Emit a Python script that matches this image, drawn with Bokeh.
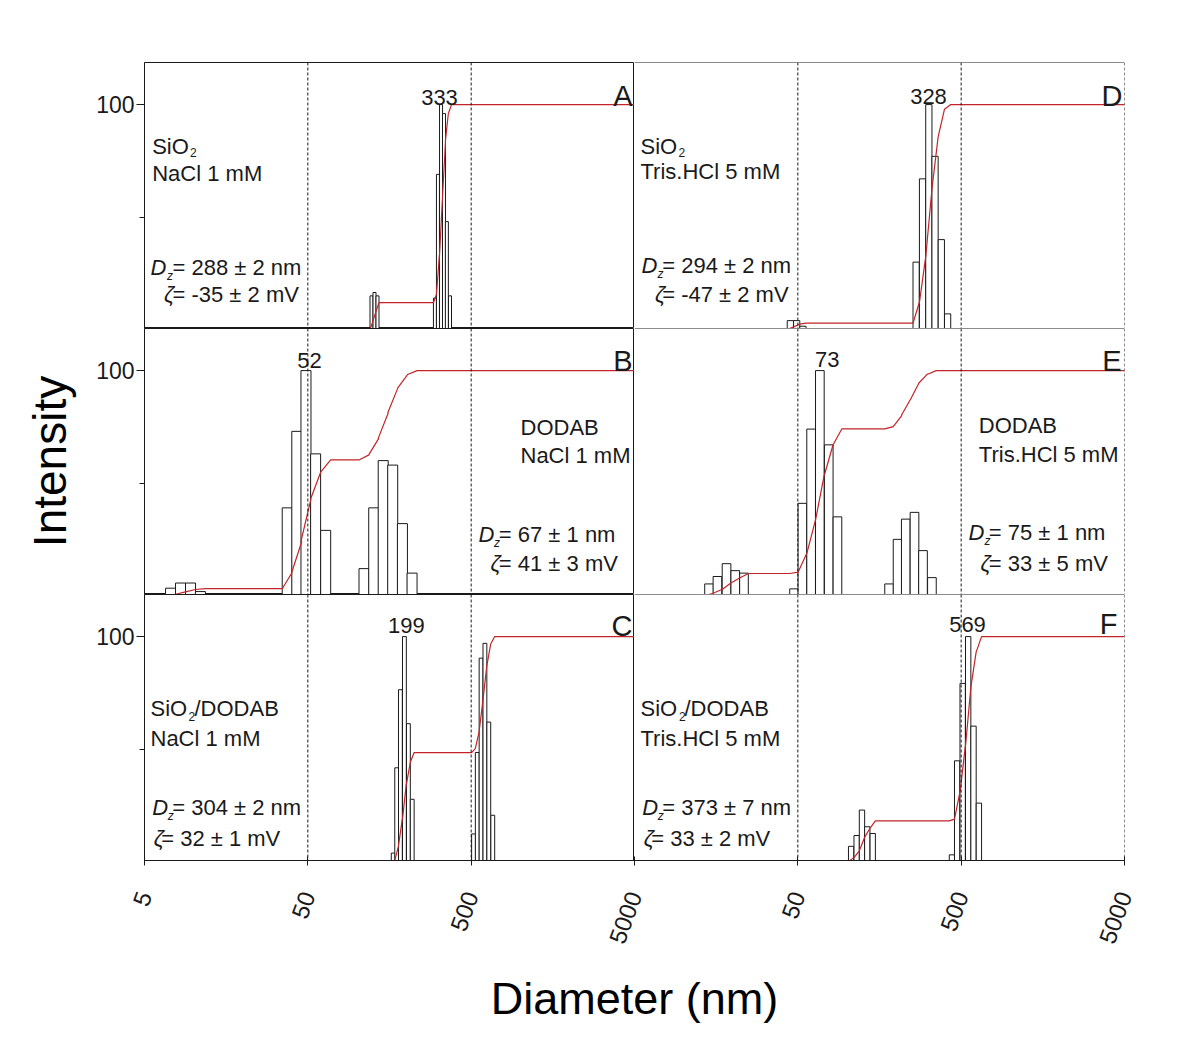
import numpy as np
from bokeh.plotting import figure
from bokeh.models import Range1d, FixedTicker, Span, CustomJSTickFormatter
from bokeh.layouts import column, row
from bokeh.embed import file_html
from bokeh.resources import INLINE
from bokeh.core.properties import value

# ---------------- data ----------------
x_tick_values = [5, 50, 500, 5000]
x_tick_labels = ["5", "50", "500", "5000"]
y_tick_values = [100]
y_minor_tick_values = [50]
guide_diameters = [50, 500, 5000]

# Panel A : SiO2, NaCl 1 mM
a_diam = [122.7, 128.0, 133.5, 300, 313, 327, 341, 355, 371]
a_int = [15, 16.5, 15, 14, 69, 100, 96, 48, 15]
a_bin_dex = 0.0184

# Panel B : DODAB, NaCl 1 mM
b_diam = [7.22, 8.31, 9.57, 11.0, 37.4, 42.8, 48.7, 55.8, 64.3,
          110.4, 126.6, 144.7, 165.4, 189.7, 217.3]
b_int = [3.3, 5.6, 5.6, 1.8, 39, 73, 100, 63, 29, 12, 39, 60, 58, 32, 10]
b_bin_dex = 0.0613

# Panel C : SiO2/DODAB, NaCl 1 mM
c_diam = [166.6, 175.0, 184.4, 195.1, 206.4, 217.8, 517, 545, 575, 607, 641, 678]
c_int = [3.8, 41.7, 76.4, 100, 61.3, 27.7, 12.3, 48.5, 90.4, 97, 62, 20.6]
c_bin_dex = 0.0235

# Panel D : SiO2, Tris.HCl 5 mM
d_diam = [45.0, 49.2, 53.7, 265, 290, 317, 346, 378, 413]
d_int = [4, 4, 1.5, 30, 67, 100, 77, 40, 7]
d_bin_dex = 0.0382

# Panel E : DODAB, Tris.HCl 5 mM
e_diam = [14.3, 16.1, 18.3, 20.7, 23.4, 47.4, 53.3, 60.3, 68.2, 77.3, 87.4,
          181, 204, 229, 259, 292, 331]
e_int = [5.2, 8.5, 14.2, 11.1, 10.0, 3, 41, 74, 100, 67, 35,
         5.2, 25, 34, 37, 20, 8]
e_bin_dex = 0.053

# Panel F : SiO2/DODAB, Tris.HCl 5 mM
f_diam = [106, 114.6, 123.5, 133.1, 143.7, 439, 472.5, 510.7, 552, 595, 642]
f_int = [6.8, 11.6, 22.9, 15.5, 12.5, 3, 44.8, 79.2, 100, 60.2, 26]
f_bin_dex = 0.0327

peak_labels = {"A": "333", "B": "52", "C": "199", "D": "328", "E": "73", "F": "569"}
dz_labels = {"A": "288 ± 2 nm", "B": "67 ± 1 nm", "C": "304 ± 2 nm",
             "D": "294 ± 2 nm", "E": "75 ± 1 nm", "F": "373 ± 7 nm"}
zeta_labels = {"A": "-35 ± 2 mV", "B": "41 ± 3 mV", "C": "32 ± 1 mV",
               "D": "-47 ± 2 mV", "E": "33 ± 5 mV", "F": "33 ± 2 mV"}

# ---------------- layout constants ----------------
FONT = "Liberation Sans"
FW, FH = 490, 266
Y0, Y1 = 0.5, 118.7
X0, X1 = 5, 5000
LEFT_BORDER = 144
TOP_BORDER = 62
BOTTOM_BORDER = 6
RIGHT_BORDER = 20
INK = "#1a1a1a"
RED = "#c22428"
BODY = 22


def at(dx, dy):
    """pixel offset from frame top-left -> data coords"""
    x = 10 ** (np.log10(X0) + np.log10(X1 / X0) * dx / FW)
    y = Y1 - (Y1 - Y0) * dy / FH
    return x, y


def add_text(p, dx, dy, txt, size=BODY, style="normal", align="left"):
    x, y = at(dx, dy)
    p.text(x=[x], y=[y], text=[txt], text_font=value(FONT),
           text_font_size=value(f"{size}px"), text_font_style=style,
           text_align=align, text_baseline="alphabetic", text_color=INK)


def cumulative(diam, inten, dex):
    c = np.asarray(diam, float)
    h = np.asarray(inten, float)
    half = 10 ** (dex / 2)
    left, right = c / half, c * half
    cum = np.cumsum(h) / h.sum() * 100
    xs, ys, prev = [], [], 0.0
    for i in range(len(c)):
        xs += [left[i], right[i]]
        ys += [prev, cum[i]]
        prev = cum[i]
    xs.append(X1)
    ys.append(100.0)
    return xs, ys


def make_panel(col, rowi, diam, inten, dex, texts):
    is_left = col == 0
    is_bottom = rowi == 2
    p = figure(frame_width=FW, frame_height=FH, x_axis_type="log",
               x_range=Range1d(X0, X1), y_range=Range1d(Y0, Y1),
               x_axis_location="below" if is_bottom else None,
               y_axis_location="left" if is_left else None,
               toolbar_location=None, output_backend="svg",
               min_border=0,
               min_border_left=LEFT_BORDER if is_left else 0,
               min_border_right=0 if is_left else RIGHT_BORDER,
               min_border_top=TOP_BORDER if rowi == 0 else 0,
               min_border_bottom=BOTTOM_BORDER if is_bottom else 0,
               background_fill_color="white", border_fill_color="white")
    p.grid.visible = False
    if is_left:
        p.outline_line_color = INK
        p.outline_line_width = 1
    else:
        p.outline_line_color = None
        p.add_layout(Span(location=Y1, dimension="width", line_color=INK, line_width=1))

    c = np.asarray(diam, float)
    half = 10 ** (dex / 2)
    p.quad(left=c / half, right=c * half, top=inten, bottom=0,
           fill_color="white", line_color=INK, line_width=1)
    xs, ys = cumulative(diam, inten, dex)
    p.line(xs, ys, line_color=RED, line_width=1.2)

    for g in guide_diameters:
        p.add_layout(Span(location=g, dimension="height", line_color=INK,
                          line_width=1, line_dash="3 2"))

    if is_left:
        ax = p.yaxis[0]
        ax.ticker = FixedTicker(ticks=y_tick_values, minor_ticks=y_minor_tick_values)
        ax.major_label_text_font = FONT
        ax.major_label_text_font_size = "23px"
        ax.major_label_text_color = INK
        ax.major_tick_in = 0
        ax.major_tick_out = 8
        ax.minor_tick_in = 0
        ax.minor_tick_out = 5
        ax.major_label_standoff = 2
        ax.axis_line_color = INK
        ax.major_tick_line_color = INK
        ax.minor_tick_line_color = INK
        if rowi == 1:
            ax.axis_label = "Intensity"
            ax.axis_label_text_font = FONT
            ax.axis_label_text_font_size = "46px"
            ax.axis_label_text_font_style = "normal"
            ax.axis_label_text_color = "black"
            ax.axis_label_standoff = 17
    if is_bottom:
        # tick marks only; the rotated tick labels live on the shared strip below
        ax = p.xaxis[0]
        ax.ticker = FixedTicker(ticks=x_tick_values)
        ax.formatter = CustomJSTickFormatter(code="return '';")
        ax.major_label_text_font_size = "0px"
        ax.major_label_standoff = 0
        ax.major_tick_in = 4
        ax.major_tick_out = 5
        ax.minor_tick_in = 0
        ax.minor_tick_out = 0
        ax.axis_line_color = INK
        ax.major_tick_line_color = INK

    for t in texts:
        add_text(p, *t)
    return p


# text layouts (pixel offsets inside each frame)
A_txt = [
    (7.7, 83.5, "SiO"), (45.5, 89.5, "2", 12), (7.7, 111, "NaCl 1 mM"),
    (6, 204.5, "D", BODY, "italic"), (22.5, 213, "z", 12, "italic"),
    (28, 204.5, "= " + dz_labels["A"]),
    (19.5, 231.5, "ζ", BODY, "italic"), (28, 231.5, "= " + zeta_labels["A"]),
    (295, 34.5, peak_labels["A"], 22, "normal", "center"),
    (488, 33, "A", 29, "normal", "right"),
]
D_txt = [
    (6, 84, "SiO"), (44, 89.5, "2", 12), (6, 108.5, "Tris.HCl 5 mM"),
    (7, 202.5, "D", BODY, "italic"), (23, 211, "z", 12, "italic"),
    (27.7, 202.5, "= " + dz_labels["D"]),
    (20.5, 231.5, "ζ", BODY, "italic"), (27.7, 231.5, "= " + zeta_labels["D"]),
    (294, 33.5, peak_labels["D"], 22, "normal", "center"),
    (488, 33, "D", 29, "normal", "right"),
]
B_txt = [
    (376, 98.5, "DODAB"), (376, 127, "NaCl 1 mM"),
    (334, 206, "D", BODY, "italic"), (349.5, 214.5, "z", 12, "italic"),
    (354.3, 206, "= " + dz_labels["B"]),
    (346, 234.5, "ζ", BODY, "italic"), (354.3, 234.5, "= " + zeta_labels["B"]),
    (165, 32, peak_labels["B"], 22, "normal", "center"),
    (488, 32, "B", 29, "normal", "right"),
]
E_txt = [
    (344.3, 97, "DODAB"), (344.3, 125.5, "Tris.HCl 5 mM"),
    (334, 204, "D", BODY, "italic"), (350, 212.5, "z", 12, "italic"),
    (354.3, 204, "= " + dz_labels["E"]),
    (346, 234.5, "ζ", BODY, "italic"), (354.3, 234.5, "= " + zeta_labels["E"]),
    (192.7, 31, peak_labels["E"], 22, "normal", "center"),
    (487, 32, "E", 29, "normal", "right"),
]
C_txt = [
    (6, 114.3, "SiO"), (44, 122, "2", 12), (50, 114.3, "/DODAB"),
    (6, 144.3, "NaCl 1 mM"),
    (7.7, 212.7, "D", BODY, "italic"), (23.3, 221, "z", 12, "italic"),
    (27.7, 212.7, "= " + dz_labels["C"]),
    (9.3, 244.3, "ζ", BODY, "italic"), (16.7, 244.3, "= " + zeta_labels["C"]),
    (261.8, 31, peak_labels["C"], 22, "normal", "center"),
    (488, 31, "C", 29, "normal", "right"),
]
F_txt = [
    (6, 114.3, "SiO"), (44.5, 122, "2", 12), (50, 114.3, "/DODAB"),
    (6, 143.7, "Tris.HCl 5 mM"),
    (7.7, 212.7, "D", BODY, "italic"), (23.3, 221, "z", 12, "italic"),
    (27.7, 212.7, "= " + dz_labels["F"]),
    (9.3, 244.3, "ζ", BODY, "italic"), (16.7, 244.3, "= " + zeta_labels["F"]),
    (333, 29.5, peak_labels["F"], 22, "normal", "center"),
    (483, 29, "F", 29, "normal", "right"),
]

pA = make_panel(0, 0, a_diam, a_int, a_bin_dex, A_txt)
pD = make_panel(1, 0, d_diam, d_int, d_bin_dex, D_txt)
pB = make_panel(0, 1, b_diam, b_int, b_bin_dex, B_txt)
pE = make_panel(1, 1, e_diam, e_int, e_bin_dex, E_txt)
pC = make_panel(0, 2, c_diam, c_int, c_bin_dex, C_txt)
pF = make_panel(1, 2, f_diam, f_int, f_bin_dex, F_txt)

# Shared bottom strip: one continuous log axis spanning both columns
# (left column 5..5000, right column continues one factor of 1000 further)
strip_ticks = x_tick_values + [v * X1 / X0 for v in x_tick_values[1:]]
strip_labels = x_tick_labels + x_tick_labels[1:]
strip = figure(frame_width=2 * FW, frame_height=1, x_axis_type="log",
               x_range=Range1d(X0, X1 * X1 / X0), y_range=Range1d(0, 1),
               x_axis_location="below", y_axis_location=None,
               toolbar_location=None, output_backend="svg",
               min_border=0, min_border_left=LEFT_BORDER,
               min_border_right=RIGHT_BORDER, outline_line_color=None,
               background_fill_color="white", border_fill_color="white")
strip.grid.visible = False
sax = strip.xaxis[0]
sax.ticker = FixedTicker(ticks=strip_ticks)
sax.formatter = CustomJSTickFormatter(
    args=dict(tv=strip_ticks, tl=strip_labels),
    code="const k = tv.findIndex(t => Math.abs(t - tick) / t < 1e-6);"
         " return k >= 0 ? tl[k] : '';")
sax.axis_line_color = None
sax.major_tick_line_color = None
sax.minor_tick_line_color = None
sax.major_tick_in = 0
sax.major_tick_out = 0
sax.minor_tick_in = 0
sax.minor_tick_out = 0
sax.major_label_orientation = 1.22
sax.major_label_text_font = FONT
sax.major_label_text_font_size = "24px"
sax.major_label_text_color = INK
sax.major_label_standoff = 25
sax.axis_label = "Diameter (nm)"
sax.axis_label_text_font = FONT
sax.axis_label_text_font_size = "45px"
sax.axis_label_text_font_style = "normal"
sax.axis_label_text_color = "black"
sax.axis_label_standoff = 22

layout = column(row(pA, pD), row(pB, pE), row(pC, pF), strip)
open("out.html", "w").write(file_html(layout, INLINE))
